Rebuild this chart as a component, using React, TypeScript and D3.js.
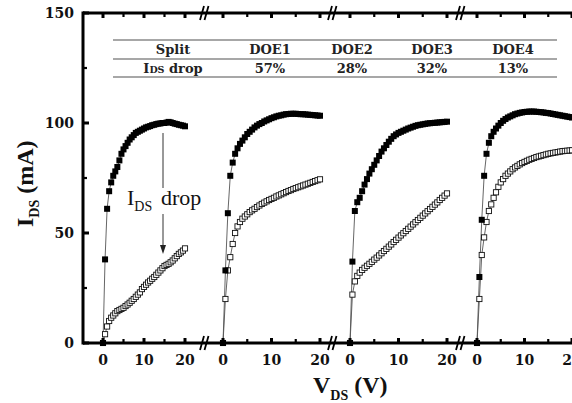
import React from 'react';
import * as d3 from 'd3';

// ---------- data ----------
const VDS = [0, 0.5, 1, 1.5, 2, 2.5, 3, 3.5, 4, 4.5, 5, 5.5, 6, 6.5, 7, 7.5, 8, 8.5, 9, 9.5, 10,
  10.5, 11, 11.5, 12, 12.5, 13, 13.5, 14, 14.5, 15, 15.5, 16, 16.5, 17, 17.5, 18, 18.5, 19, 19.5, 20];

const SPLITS = ['DOE1', 'DOE2', 'DOE3', 'DOE4'];
const DROPS = ['57%', '28%', '32%', '13%'];

// filled squares (before)
const BEFORE_DOE1 = [0, 38, 61, 69, 73, 76, 78, 80, 83, 86, 88, 89.5, 91, 92.5, 93.5, 94.5, 95.5, 96, 96.5, 97, 97.5,
  98, 98.3, 98.6, 99, 99.2, 99.5, 99.7, 99.8, 100, 100, 100.2, 100.5, 100.3, 100, 99.7, 99.5, 99.2, 99, 98.8, 98.5];
const BEFORE_DOE2 = [0, 33, 59, 76, 82, 86, 88.5, 90.5, 92, 93.5, 95, 96, 97, 98, 98.8, 99.5, 100, 100.7, 101.2, 101.7, 102.2,
  102.6, 103, 103.3, 103.5, 103.8, 104, 104.1, 104.2, 104.2, 104.2, 104.1, 104, 104, 103.9, 103.8, 103.7, 103.6, 103.5, 103.4, 103.3];
const BEFORE_DOE3 = [0, 37, 60, 64, 66, 69, 72, 74.5, 77, 79, 81, 83, 85, 87, 88.5, 90, 91.5, 92.8, 94, 94.8, 95.5,
  96, 96.5, 97, 97.5, 97.9, 98.3, 98.7, 99, 99.2, 99.4, 99.6, 99.8, 99.9, 100, 100.1, 100.2, 100.3, 100.4, 100.5, 100.6];
const BEFORE_DOE4 = [0, 30, 56, 76, 86, 91, 94, 96, 97.5, 98.8, 100, 101, 101.8, 102.5, 103, 103.5, 104, 104.3, 104.6, 104.8, 105,
  105.1, 105.2, 105.2, 105.2, 105.1, 105, 104.9, 104.8, 104.6, 104.5, 104.3, 104.1, 103.9, 103.7, 103.5, 103.3, 103.1, 102.9, 102.7, 102.5];

// open squares (after)
const AFTER_DOE1 = [0, 4, 7.5, 10, 11.5, 12.5, 13.5, 14.5, 15, 15.5, 16, 16.8, 17.5, 18.3, 19.2, 20, 21, 22, 23, 24.5, 25.5,
  26.5, 27.5, 28.3, 29.2, 30, 31, 32, 33, 34, 35, 35.5, 36, 36.7, 37.5, 38.5, 39.5, 40.5, 41.2, 42, 43];
const AFTER_DOE2 = [0, 20, 33, 39, 45, 50, 53, 55, 56.5, 57.5, 58.5, 59.5, 60.3, 61, 61.8, 62.5, 63.2, 63.8, 64.4, 65, 65.5,
  66, 66.6, 67.1, 67.6, 68.1, 68.6, 69.1, 69.5, 70, 70.4, 70.8, 71.2, 71.6, 72, 72.4, 72.8, 73.2, 73.6, 74, 74.4];
const AFTER_DOE3 = [0, 22, 28, 30.5, 32, 33.2, 34.2, 35.1, 36, 36.9, 37.9, 38.8, 39.8, 40.8, 41.8, 42.8, 43.8, 44.8, 45.9, 46.9, 47.9,
  48.9, 49.9, 50.9, 51.9, 52.9, 53.9, 54.9, 55.9, 56.9, 57.9, 58.9, 59.9, 60.9, 61.9, 62.9, 63.9, 65, 66, 67, 68];
const AFTER_DOE4 = [0, 20, 40, 48, 55, 60, 63, 66, 68.5, 71, 73, 74.5, 76, 77, 78, 79, 79.8, 80.5, 81.2, 81.8, 82.3,
  82.8, 83.3, 83.7, 84.1, 84.5, 84.8, 85.1, 85.4, 85.7, 86, 86.2, 86.4, 86.6, 86.8, 87, 87.2, 87.3, 87.4, 87.5, 87.6];

const BEFORE = [BEFORE_DOE1, BEFORE_DOE2, BEFORE_DOE3, BEFORE_DOE4];
const AFTER = [AFTER_DOE1, AFTER_DOE2, AFTER_DOE3, AFTER_DOE4];

const Y_TICKS = [0, 50, 100, 150];
const Y_MINOR = [25, 75, 125];
const X_TICKS = [0, 10, 20];
const X_MINOR = [5, 15];

// ---------- layout ----------
const W = 572, H = 403;
const AXIS_LEFT = 83, AXIS_TOP = 13, AXIS_BOTTOM = 343;
const PANEL_X0 = [103, 223, 350, 477];
const PANEL_X20 = [185, 320, 447, 572];
const BREAKS = [205, 333, 461];
const TABLE_COLS = [173, 270, 352, 432, 513];

const SERIF_BOLD = '"DejaVu Serif", serif';
const TIMES = '"Liberation Serif", "Times New Roman", serif';

export default function App() {
  const y = d3.scaleLinear().domain([0, 150]).range([AXIS_BOTTOM, AXIS_TOP]);
  const xs = PANEL_X0.map((x0, i) => d3.scaleLinear().domain([0, 20]).range([x0, PANEL_X20[i]]));

  const panels = xs.map((x, i) => {
    const line = d3.line<number>().x((_, k) => x(VDS[k])).y((d) => y(d));
    return (
      <g key={i}>
        <path d={line(BEFORE[i]) || ''} fill="none" stroke="#555" strokeWidth={0.9} />
        <path d={line(AFTER[i]) || ''} fill="none" stroke="#555" strokeWidth={0.9} />
        {AFTER[i].map((d, k) => (
          <rect key={'a' + k} x={x(VDS[k]) - 2.6} y={y(d) - 2.6} width={5.2} height={5.2}
            fill="#fff" stroke="#111" strokeWidth={0.9} />
        ))}
        {BEFORE[i].map((d, k) => (
          <rect key={'b' + k} x={x(VDS[k]) - 3} y={y(d) - 3} width={6} height={6} fill="#000" />
        ))}
      </g>
    );
  });

  const xTicks = xs.map((x, i) => (
    <g key={'xt' + i}>
      {X_TICKS.map((t) => (
        <g key={'M' + t}>
          <line x1={x(t)} x2={x(t)} y1={AXIS_BOTTOM} y2={AXIS_BOTTOM - 5} stroke="#000" strokeWidth={3} />
          <line x1={x(t)} x2={x(t)} y1={AXIS_TOP} y2={AXIS_TOP + 5} stroke="#000" strokeWidth={3} />
          <text x={x(t)} y={365} textAnchor="middle" fontFamily={SERIF_BOLD} fontWeight="bold" fontSize={14} fill="#111">{t}</text>
        </g>
      ))}
      {X_MINOR.map((t) => (
        <g key={'m' + t}>
          <line x1={x(t)} x2={x(t)} y1={AXIS_BOTTOM} y2={AXIS_BOTTOM - 4} stroke="#000" strokeWidth={2.2} />
          <line x1={x(t)} x2={x(t)} y1={AXIS_TOP} y2={AXIS_TOP + 4} stroke="#000" strokeWidth={2.2} />
        </g>
      ))}
    </g>
  ));

  const yTicks = (
    <g>
      {Y_TICKS.map((t) => (
        <g key={'y' + t}>
          <line x1={AXIS_LEFT} x2={AXIS_LEFT + 6} y1={y(t)} y2={y(t)} stroke="#000" strokeWidth={3} />
          <text x={74} y={y(t) + 5} textAnchor="end" fontFamily={SERIF_BOLD} fontWeight="bold" fontSize={14} fill="#111">{t}</text>
        </g>
      ))}
      {Y_MINOR.map((t) => (
        <line key={'ym' + t} x1={AXIS_LEFT} x2={AXIS_LEFT + 4} y1={y(t)} y2={y(t)} stroke="#000" strokeWidth={2.2} />
      ))}
    </g>
  );

  const breaks = BREAKS.map((bx) =>
    [AXIS_TOP, AXIS_BOTTOM].map((ay) => (
      <g key={bx + '-' + ay}>
        <line x1={bx - 5} y1={ay + 7} x2={bx - 1} y2={ay - 7} stroke="#000" strokeWidth={1.8} />
        <line x1={bx - 0.5} y1={ay + 7} x2={bx + 3.5} y2={ay - 7} stroke="#000" strokeWidth={1.8} />
      </g>
    ))
  );

  return (
    <svg width={W} height={H} style={{ position: 'absolute', left: 0, top: 0, background: '#fff' }}>
      {/* table */}
      <g>
        {[40, 59, 77].map((ly) => (
          <line key={ly} x1={113} x2={557} y1={ly} y2={ly} stroke="#8a8a8a" strokeWidth={1.4} />
        ))}
        <text x={TABLE_COLS[0]} y={54} textAnchor="middle" fontFamily={SERIF_BOLD} fontWeight="bold" fontSize={13} fill="#222">Split</text>
        <text x={TABLE_COLS[0]} y={73} textAnchor="middle" fontFamily={SERIF_BOLD} fontWeight="bold" fontSize={13} fill="#222">
          I<tspan fontSize={9.5}>DS</tspan> drop
        </text>
        {SPLITS.map((s, i) => (
          <text key={s} x={TABLE_COLS[i + 1]} y={54} textAnchor="middle" fontFamily={SERIF_BOLD} fontWeight="bold" fontSize={13} fill="#222">{s}</text>
        ))}
        {DROPS.map((s, i) => (
          <text key={'d' + i} x={TABLE_COLS[i + 1]} y={73} textAnchor="middle" fontFamily={SERIF_BOLD} fontWeight="bold" fontSize={13} fill="#222">{s}</text>
        ))}
      </g>

      {panels}

      {/* annotation */}
      <g>
        <line x1={163} x2={163} y1={133} y2={188} stroke="#333" strokeWidth={1} />
        <line x1={163} x2={163} y1={214} y2={247} stroke="#333" strokeWidth={1} />
        <polygon points="160,245 166,245 163,254" fill="#222" />
        <text x={127} y={205} fontFamily={TIMES} fontSize={22} fill="#111">
          I<tspan fontSize={14} dy={6}>DS</tspan><tspan x={161} dy={-6}>drop</tspan>
        </text>
      </g>

      {/* axes */}
      <line x1={AXIS_LEFT} x2={AXIS_LEFT} y1={AXIS_TOP - 1.5} y2={AXIS_BOTTOM + 1.5} stroke="#000" strokeWidth={3} />
      <line x1={AXIS_LEFT} x2={W} y1={AXIS_TOP} y2={AXIS_TOP} stroke="#000" strokeWidth={3} />
      <line x1={AXIS_LEFT} x2={W} y1={AXIS_BOTTOM} y2={AXIS_BOTTOM} stroke="#000" strokeWidth={3} />
      {xTicks}
      {yTicks}
      {breaks}

      {/* axis titles */}
      <text x={313} y={393} fontFamily={TIMES} fontWeight="bold" fontSize={24} fill="#111">
        V<tspan fontSize={14} dy={7}>DS</tspan><tspan dy={-7}> (V)</tspan>
      </text>
      <text transform="translate(33,227) rotate(-90)" fontFamily={TIMES} fontWeight="bold" fontSize={24} fill="#111">
        I<tspan fontSize={14} dy={6}>DS</tspan><tspan dy={-6}> (mA)</tspan>
      </text>
    </svg>
  );
}
